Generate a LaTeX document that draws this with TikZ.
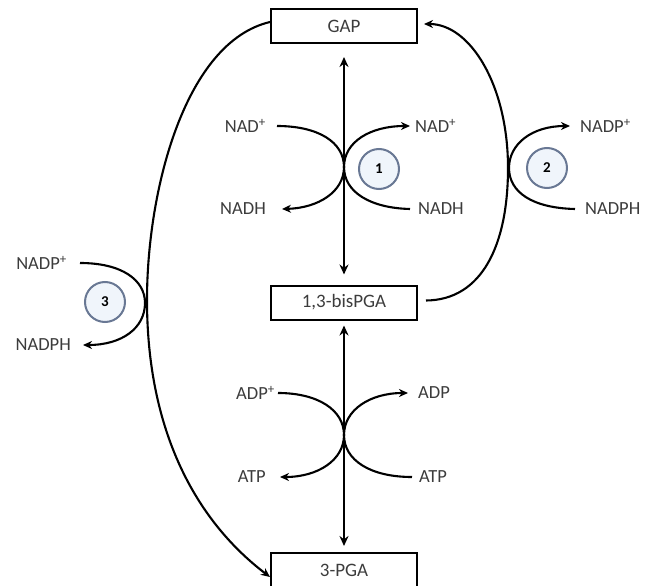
\documentclass[tikz,border=0pt]{standalone}
\usepackage{fontspec}
\setmainfont{Carlito}
\usetikzlibrary{arrows.meta}
\definecolor{enzline}{RGB}{105,120,148}
\definecolor{enzfill}{RGB}{240,245,251}
\definecolor{txt}{RGB}{60,60,60}
\begin{document}
\begin{tikzpicture}[x=1pt,y=-1pt,
  box/.style={draw,line width=2pt,minimum width=146pt,minimum height=34pt,inner sep=0pt,font=\fontsize{19}{19}\selectfont,text=txt},
  lab/.style={font=\fontsize{18.5}{18.5}\selectfont,text=txt,inner sep=0pt},
  conn/.style={line width=2.1pt},
  arr/.style={conn,-{Stealth[length=9pt,width=8pt]}},
  darr/.style={conn,{Stealth[length=10pt,width=9pt]}-{Stealth[length=10pt,width=9pt]}},
  enz/.style={circle,draw=enzline,line width=2pt,fill=enzfill,minimum size=40pt,inner sep=0pt,font=\bfseries\fontsize{15}{15}\selectfont}
]
\useasboundingbox (0,0) rectangle (646,586);
% boxes
\node[box] (gap) at (344,26) {GAP};
\node[box] (bis) at (344,302.5) {1,3-bisPGA};
\node[box] (pga) at (344,570) {3-PGA};
% vertical arrows
\draw[darr] ([yshift=-13pt]gap.south) -- ([yshift=10pt]bis.north);
\draw[darr] ([yshift=-5pt]bis.south) -- ([yshift=6pt]pga.north);
% enzymes
\node[enz] (e1) at (379,169) {1};
\node[enz] (e2) at (547,168) {2};
\node[enz] (e3) at (105,302) {3};
% labels reaction 1
\node[lab,anchor=east] (nadl) at (266,126) {NAD\textsuperscript{+}};
\node[lab,anchor=east] (nadhl) at (266,209) {NADH};
\node[lab,anchor=west] (nadr) at (415,126) {NAD\textsuperscript{+}};
\node[lab,anchor=west] (nadhr) at (418,209) {NADH};
% labels reaction 2
\node[lab,anchor=west] (nadp2) at (580,126) {NADP\textsuperscript{+}};
\node[lab,anchor=west] (nadph2) at (585,209) {NADPH};
% labels reaction 3
\node[lab,anchor=east] (nadp3) at (67,263) {NADP\textsuperscript{+}};
\node[lab,anchor=east] (nadph3) at (71,345) {NADPH};
% labels ATP
\node[lab,anchor=east] (adpl) at (275,393) {ADP\textsuperscript{+}};
\node[lab,anchor=east] (atpl) at (266,477) {ATP};
\node[lab,anchor=west] (adpr) at (418,393) {ADP};
\node[lab,anchor=west] (atpr) at (419,477) {ATP};
% curves reaction 1
\draw[arr] ([xshift=11pt]nadl.east) .. controls (318,126) and (344,142) .. (344,167)
  .. controls (344,192) and (318,208) .. ([xshift=16pt]nadhl.east);
\draw[arr] ([xshift=-8pt]nadhr.west) .. controls (370,208) and (344,192) .. (344,167)
  .. controls (344,142) and (370,126) .. ([xshift=-5pt]nadr.west);
% curves ATP
\draw[arr] ([xshift=3pt]adpl.east) .. controls (318,393) and (344,410) .. (344,435)
  .. controls (344,460) and (318,477) .. ([xshift=14pt]atpl.east);
\draw[arr] ([xshift=-7pt]atpr.west) .. controls (370,477) and (344,460) .. (344,435)
  .. controls (344,410) and (370,393) .. ([xshift=-10pt]adpr.west);
% big curve 2 (bisPGA -> GAP)
\draw[arr] ([xshift=8pt,yshift=2pt]bis.east) .. controls (482,300) and (508,245) .. (508,168)
  .. controls (508,85) and (470,24) .. ([xshift=6pt,yshift=2pt]gap.east);
% small curve 2
\draw[arr] ([xshift=-10pt]nadph2.west) .. controls (532,208) and (509,192) .. (509,168)
  .. controls (509,144) and (532,126) .. ([xshift=-10pt]nadp2.west);
% big curve 3 (GAP -> 3-PGA)
\draw[arr] ([yshift=4pt]gap.west) .. controls (185,42) and (147,190) .. (147,300)
  .. controls (147,430) and (195,520) .. ([yshift=-7pt]pga.west);
% small curve 3
\draw[arr] ([xshift=13pt]nadp3.east) .. controls (122,263) and (145,280) .. (145,303)
  .. controls (145,328) and (122,345) .. ([xshift=12pt]nadph3.east);
\end{tikzpicture}
\end{document}
